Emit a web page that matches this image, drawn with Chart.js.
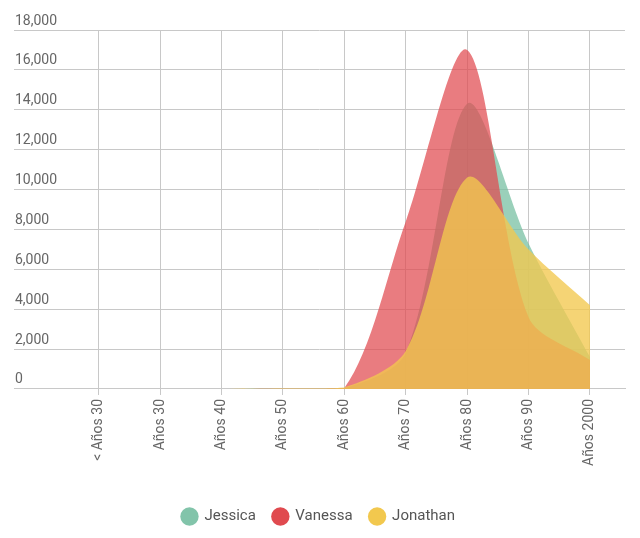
<!DOCTYPE html>
<html>
<head>
<meta charset="utf-8">
<script src="https://cdn.jsdelivr.net/npm/chart.js@4/dist/chart.umd.min.js"></script>
<style>
  html, body { margin: 0; padding: 0; background: #ffffff; }
  #wrap { width: 640px; height: 538px; }
</style>
</head>
<body>
<div id="wrap"><canvas id="c" width="640" height="538"></canvas></div>
<script>
const categories = ["< Años 30", "Años 30", "Años 40", "Años 50", "Años 60", "Años 70", "Años 80", "Años 90", "Años 2000"];
const jessica  = [0, 0, 0, 10, 30, 1800, 14300, 7300, 1600];
const vanessa  = [0, 0, 0, 10, 50, 8400, 17000, 3600, 1450];
const jonathan = [0, 0, 0, 20, 80, 1900, 10600, 7000, 4200];
const yTicks = [0, 2000, 4000, 6000, 8000, 10000, 12000, 14000, 16000, 18000];

const toPoints = arr => arr.map((v, i) => ({ x: i, y: v }));

const solid = ["rgb(130,196,170)", "rgb(224,74,79)", "rgb(242,200,78)"];

const ctx = document.getElementById('c').getContext('2d');
new Chart(ctx, {
  type: 'line',
  data: {
    datasets: [
      { label: 'Jessica', data: toPoints(jessica), backgroundColor: 'rgba(120,192,163,0.75)', order: 2 },
      { label: 'Vanessa', data: toPoints(vanessa), backgroundColor: 'rgba(224,74,79,0.72)', order: 1 },
      { label: 'Jonathan', data: toPoints(jonathan), backgroundColor: 'rgba(242,200,78,0.78)', order: 0 }
    ].map(d => Object.assign(d, { fill: 'origin', borderWidth: 0, pointRadius: 0, tension: 0.3 }))
  },
  options: {
    responsive: false,
    animation: false,
    layout: { padding: { left: 12, right: 15, top: 30, bottom: 4 } },
    plugins: {
      tooltip: { enabled: false },
      legend: {
        position: 'bottom',
        labels: {
          usePointStyle: true,
          pointStyle: 'circle',
          boxHeight: 13,
          boxWidth: 15,
          padding: 17,
          color: '#555',
          font: { family: 'Roboto', size: 15 },
          sort: (a, b) => a.datasetIndex - b.datasetIndex,
          generateLabels: chart => {
            const items = Chart.defaults.plugins.legend.labels.generateLabels(chart);
            items.forEach(it => { it.fillStyle = solid[it.datasetIndex]; it.strokeStyle = solid[it.datasetIndex]; it.lineWidth = 0; });
            return items;
          }
        }
      }
    },
    scales: {
      x: {
        type: 'linear',
        min: -1.38,
        max: 8.57,
        afterBuildTicks: scale => { scale.ticks = categories.map((c, i) => ({ value: i })); },
        afterFit: scale => { scale.height += 22; },
        ticks: {
          minRotation: 90, maxRotation: 90, autoSkip: false,
          color: '#666', padding: 4,
          font: { family: 'Roboto', size: 14 },
          callback: v => categories[v]
        },
        grid: { color: '#c8c8c8', lineWidth: 1, tickLength: 6 },
        border: { display: true, color: '#c8c8c8' }
      },
      y: {
        min: 0, max: 18000,
        afterBuildTicks: scale => { scale.ticks = yTicks.map(v => ({ value: v })); },
        ticks: {
          mirror: true, padding: 1, labelOffset: -9,
          color: '#666',
          font: { family: 'Roboto', size: 14 },
          callback: v => v.toLocaleString('en-US')
        },
        grid: { color: '#c8c8c8', lineWidth: 1, drawTicks: false },
        border: { display: false }
      }
    }
  }
});
</script>
</body>
</html>
